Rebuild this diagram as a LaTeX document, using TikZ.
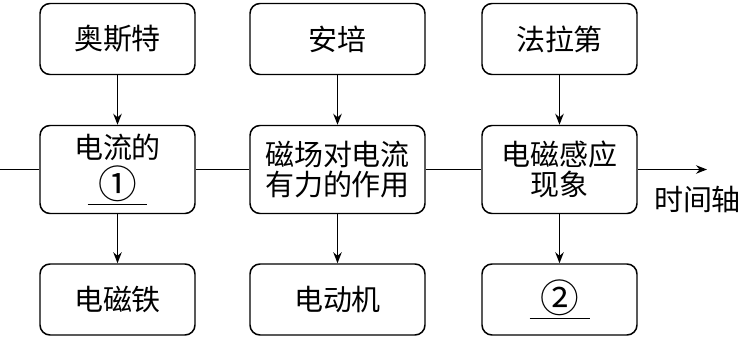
\documentclass[tikz,border=0pt]{standalone}
\usepackage{fontspec}
\newfontfamily\cjk{Noto Sans CJK SC}
\usetikzlibrary{arrows.meta,positioning}
\newcommand{\blankno}[1]{\underline{\makebox[1.2cm]{\fontsize{22}{22}\selectfont #1}}}

\begin{document}
\begin{tikzpicture}[
  box/.style={draw, line width=0.85pt, rounded corners=0.2cm, minimum width=3.1cm, minimum height=1.42cm, align=center, inner sep=1pt, font=\cjk\fontsize{16.5}{17.5}\selectfont},
  wbox/.style={box, minimum width=3.5cm},
  mbox/.style={minimum height=1.76cm},
  link/.style={line width=0.85pt, -{Stealth[length=0.22cm, width=0.17cm]}},
  axis/.style={line width=0.85pt}
]
  \useasboundingbox (0,0) rectangle (14.94,6.78);

  %% Scientists
  \node[box]  (oersted) at (2.35,6.0)  {奥斯特};
  \node[wbox] (ampere)  at (6.75,6.0)  {安培};
  \node[box]  (faraday) at (11.19,6.0) {法拉第};

  %% Discoveries
  \node[box, mbox]  (effect)  at (2.35,3.39)  {电流的\\[2pt]\blankno{①}};
  \node[wbox, mbox] (force)   at (6.75,3.39)  {磁场对电流\\有力的作用};
  \node[box, mbox]  (induct)  at (11.19,3.39) {电磁感应\\现象};

  %% Applications
  \node[box]  (magnet) at (2.35,0.79)  {电磁铁};
  \node[wbox] (motor)  at (6.75,0.79)  {电动机};
  \node[box]  (appl)   at (11.19,0.79) {\blankno{②}};

  %% Time axis
  \coordinate (tstart) at (0,3.39);
  \coordinate (tend)   at (14.14,3.39);
  \draw[axis] (tstart) -- (effect.west);
  \draw[axis] (effect.east) -- (force.west);
  \draw[axis] (force.east) -- (induct.west);
  \draw[link] (induct.east) -- (tend);
  \node[font=\cjk\fontsize{16.5}{17.5}\selectfont] (tlabel) at (13.95,2.8) {时间轴};

  %% Arrows
  \draw[link] (oersted) -- (effect);
  \draw[link] (ampere)  -- (force);
  \draw[link] (faraday) -- (induct);
  \draw[link] (effect) -- (magnet);
  \draw[link] (force)  -- (motor);
  \draw[link] (induct) -- (appl);
\end{tikzpicture}
\end{document}
